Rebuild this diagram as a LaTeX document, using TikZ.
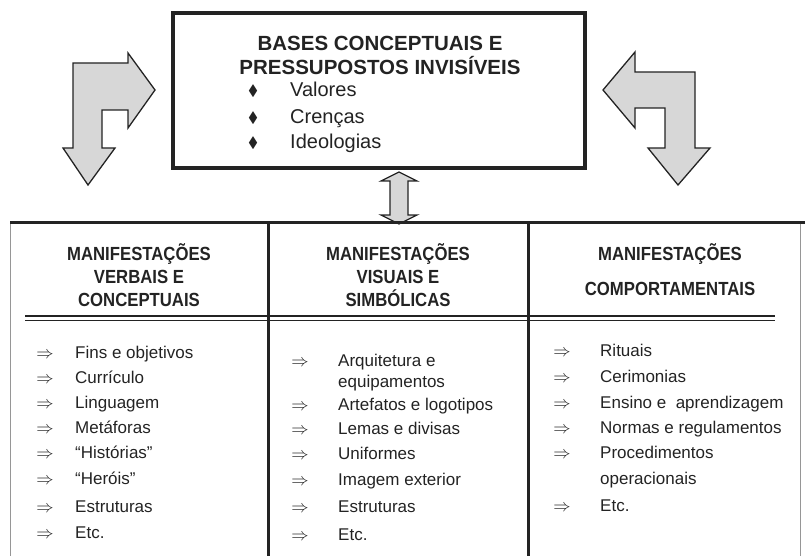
\documentclass[tikz,border=0pt]{standalone}
\definecolor{setagris}{RGB}{215, 215, 215}
\definecolor{tinta}{RGB}{35, 35, 35}
\definecolor{borda}{RGB}{150, 150, 150}
\usepackage{fontspec}
\setmainfont{Liberation Sans}
\newfontfamily\narrowfont[FakeStretch=0.88]{Liberation Sans}
\usepackage{amsmath}
\usepackage{amssymb}

\tikzset{
  seta/.style={fill=setagris, draw=tinta, line width=1.3pt, line join=miter},
  item/.style={anchor=west, inner sep=0pt, text height=14pt, text depth=2pt,
    font=\fontsize{17}{20}\selectfont, text=tinta},
  marca/.style={inner sep=0pt, yshift=-3pt, font=\fontsize{16}{16}\selectfont, text=tinta},
  cabeca/.style={align=center, inner sep=0pt, text=tinta,
    font=\narrowfont\bfseries\fontsize{19}{23}\selectfont},
  bolinha/.style={inner sep=0pt, font=\fontsize{15}{15}\selectfont, text=tinta},
  valor/.style={anchor=west, inner sep=0pt, text height=16pt, text depth=2pt,
    font=\fontsize{20}{24}\selectfont, text=tinta},
}

\begin{document}
\begin{tikzpicture}[x=1pt, y=-1pt]
                    \useasboundingbox (0,0) rectangle (805,556);
                    % Caixa das bases invisiveis
                    \node[draw=tinta, line width=4pt, minimum width=412pt, minimum height=155pt,
                      inner sep=0pt] (bases) at (379,90.5) {};
                    \node[align=center, inner sep=0pt, text=tinta,
                      font=\bfseries\fontsize{20.5}{24}\selectfont] (titulo) at (380,55)
                      {BASES CONCEPTUAIS E\\PRESSUPOSTOS INVISÍVEIS};
                    \node[bolinha] (b1) at (253,91) {$\blacklozenge$};
                    \node[bolinha] (b2) at (253,118) {$\blacklozenge$};
                    \node[bolinha] (b3) at (253,143) {$\blacklozenge$};
                    \node[valor] (valores) at (290,90) {Valores};
                    \node[valor] (crencas) at (290,117) {Crenças};
                    \node[valor] (ideologias) at (290,142) {Ideologias};

                    % Setas dobradas dos lados
                    \draw[seta] (88,185) -- (63,148) -- (73,148) -- (73,63) -- (128,63) -- (128,53)
                      -- (155,90) -- (128,128) -- (128,110) -- (102,110) -- (102,148) -- (115,148) -- cycle;
                    \draw[seta] (603,90) -- (635,52) -- (635,72) -- (695,72) -- (695,148) -- (710,148)
                      -- (678,185) -- (648,148) -- (665,148) -- (665,108) -- (635,108) -- (635,128) -- cycle;

                    % Seta dupla entre a caixa e a tabela
                    \draw[seta, shift={(bases.south)}] (20,2) -- (38,11) -- (29,11) -- (29,45) -- (38,45)
                      -- (20,54) -- (2,45) -- (11,45) -- (11,11) -- (2,11) -- cycle;

                    % Tabela das manifestacoes
                    \draw[borda, line width=1pt] (10,222) -- (10,556);
                    \draw[borda, line width=1pt] (800,222) -- (800,556);
                    \draw[tinta, line width=3pt] (10,222) -- (805,222);
                    \draw[tinta, line width=1.5pt] (25,316) -- (775,316);
                    \draw[tinta, line width=1.5pt] (25,320.5) -- (775,320.5);
                    \draw[tinta, line width=3pt] (268,222) -- (268,556);
                    \draw[tinta, line width=3pt] (528,222) -- (528,556);

                    \node[cabeca] (verbais) at (139,275)
                      {MANIFESTAÇÕES\\VERBAIS E\\CONCEPTUAIS};
                    \node[cabeca] (visuais) at (398,275)
                      {MANIFESTAÇÕES\\VISUAIS E\\SIMBÓLICAS};
                    \node[cabeca, font=\narrowfont\bfseries\fontsize{19}{35}\selectfont] (comport) at (670,270)
                      {MANIFESTAÇÕES\\COMPORTAMENTAIS};

                    % Coluna 1
                    \node[marca] (m11) at (45,352) {$\Rightarrow$};
                    \node[item] (v1) at (75,352) {Fins e objetivos};
                    \node[marca] (m12) at (45,377) {$\Rightarrow$};
                    \node[item] (v2) at (75,377) {Currículo};
                    \node[marca] (m13) at (45,402) {$\Rightarrow$};
                    \node[item] (v3) at (75,402) {Linguagem};
                    \node[marca] (m14) at (45,427) {$\Rightarrow$};
                    \node[item] (v4) at (75,427) {Metáforas};
                    \node[marca] (m15) at (45,452) {$\Rightarrow$};
                    \node[item] (v5) at (75,452) {“Histórias”};
                    \node[marca] (m16) at (45,478) {$\Rightarrow$};
                    \node[item] (v6) at (75,478) {“Heróis”};
                    \node[marca] (m17) at (45,506) {$\Rightarrow$};
                    \node[item] (v7) at (75,506) {Estruturas};
                    \node[marca] (m18) at (45,532) {$\Rightarrow$};
                    \node[item] (v8) at (75,532) {Etc.};

                    % Coluna 2
                    \node[marca] (m21) at (300,360) {$\Rightarrow$};
                    \node[item] (s1) at (338,360) {Arquitetura e};
                    \node[item] (s1b) at (338,381) {equipamentos};
                    \node[marca] (m22) at (300,404) {$\Rightarrow$};
                    \node[item] (s2) at (338,404) {Artefatos e logotipos};
                    \node[marca] (m23) at (300,428) {$\Rightarrow$};
                    \node[item] (s3) at (338,428) {Lemas e divisas};
                    \node[marca] (m24) at (300,453) {$\Rightarrow$};
                    \node[item] (s4) at (338,453) {Uniformes};
                    \node[marca] (m25) at (300,479) {$\Rightarrow$};
                    \node[item] (s5) at (338,479) {Imagem exterior};
                    \node[marca] (m26) at (300,506) {$\Rightarrow$};
                    \node[item] (s6) at (338,506) {Estruturas};
                    \node[marca] (m27) at (300,534) {$\Rightarrow$};
                    \node[item] (s7) at (338,534) {Etc.};

                    % Coluna 3
                    \node[marca] (m31) at (562,350) {$\Rightarrow$};
                    \node[item] (c1) at (600,350) {Rituais};
                    \node[marca] (m32) at (562,376) {$\Rightarrow$};
                    \node[item] (c2) at (600,376) {Cerimonias};
                    \node[marca] (m33) at (562,402) {$\Rightarrow$};
                    \node[item] (c3) at (600,402) {Ensino e\ \ aprendizagem};
                    \node[marca] (m34) at (562,427) {$\Rightarrow$};
                    \node[item] (c4) at (600,427) {Normas e regulamentos};
                    \node[marca] (m35) at (562,452) {$\Rightarrow$};
                    \node[item] (c5) at (600,452) {Procedimentos};
                    \node[item] (c5b) at (600,478) {operacionais};
                    \node[marca] (m36) at (562,505) {$\Rightarrow$};
                    \node[item] (c6) at (600,505) {Etc.};
                \end{tikzpicture}
\end{document}
